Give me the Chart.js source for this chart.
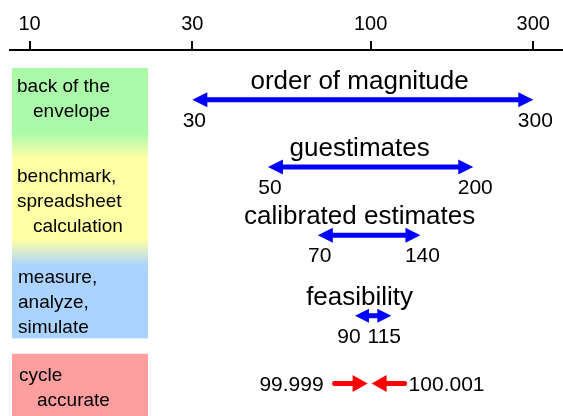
<!DOCTYPE html>
<html>
<head>
<meta charset="utf-8">
<script src="https://cdn.jsdelivr.net/npm/chart.js@4"></script>
<style>
  html, body { margin: 0; padding: 0; background: #ffffff; }
  #wrap { width: 563px; height: 416px; position: relative; }
</style>
</head>
<body>
<div id="wrap"><canvas id="c"></canvas></div>
<script>
// ---- data ----
const tickValues = [10, 30, 100, 300];
const tickLabels = ['10', '30', '100', '300'];
const methods = ['order of magnitude', 'guestimates', 'calibrated estimates', 'feasibility'];
const lows = [30, 50, 70, 90];
const highs = [300, 200, 140, 115];
const lowLabels = ['30', '50', '70', '90'];
const highLabels = ['300', '200', '140', '115'];
const exactLow = 99.999;
const exactHigh = 100.001;
const exactLabels = ['99.999', '100.001'];
const bandLabels = [
  ['back of the', 'envelope'],
  ['benchmark,', 'spreadsheet', 'calculation'],
  ['measure,', 'analyze,', 'simulate'],
  ['cycle', 'accurate']
];

// ---- layout (y in hidden-scale units 0..100, top to bottom) ----
const rowLevels = [13.6, 32.0, 50.6, 72.6, 91.1];
const FONT = '"Liberation Sans", Arial, Helvetica, sans-serif';

const datasets = lows.map((lo, i) => ({
  label: methods[i],
  data: [{ x: lo, y: rowLevels[i] }, { x: highs[i], y: rowLevels[i] }],
  showLine: false, pointRadius: 0
}));
datasets.push({
  label: 'cycle accurate',
  data: [{ x: exactLow, y: rowLevels[4] }, { x: exactHigh, y: rowLevels[4] }],
  showLine: false, pointRadius: 0
});

function tri(ctx, tipX, y, dir, len, half) {
  ctx.beginPath();
  ctx.moveTo(tipX, y);
  ctx.lineTo(tipX - dir * len, y - half);
  ctx.lineTo(tipX - dir * len, y + half);
  ctx.closePath();
  ctx.fill();
}

const artPlugin = {
  id: 'art',
  beforeDraw(chart) {
    const ctx = chart.ctx;
    const ys = chart.scales.y;
    ctx.save();
    ctx.fillStyle = '#ffffff';
    ctx.fillRect(0, 0, chart.width, chart.height);
    // colored method bands
    const bx = 12, bw = 136;
    const top = ys.getPixelForValue(4.9), bot = ys.getPixelForValue(78.8);
    const g = ctx.createLinearGradient(0, top, 0, bot);
    const h = bot - top;
    const stop = p => Math.min(1, Math.max(0, (p - top) / h));
    g.addColorStop(0, '#aafaaa');
    g.addColorStop(stop(133), '#aafaaa');
    g.addColorStop(stop(158), '#ffffa6');
    g.addColorStop(stop(240), '#ffffa6');
    g.addColorStop(stop(266), '#aad4ff');
    g.addColorStop(1, '#aad4ff');
    ctx.fillStyle = g;
    ctx.fillRect(bx, top, bw, h);
    const rTop = ys.getPixelForValue(83.0), rBot = ys.getPixelForValue(100);
    ctx.fillStyle = '#ff9e9e';
    ctx.fillRect(bx, rTop, bw, rBot - rTop);
    // band texts
    ctx.fillStyle = '#000000';
    ctx.font = '19px ' + FONT;
    ctx.textAlign = 'left';
    ctx.textBaseline = 'alphabetic';
    const pos = [
      [[17, 92], [33, 117]],
      [[17, 182], [17, 207], [33, 232]],
      [[18, 283], [18, 308], [18, 333]],
      [[19, 381], [37, 406]]
    ];
    bandLabels.forEach((lines, i) => {
      lines.forEach((t, j) => ctx.fillText(t, pos[i][j][0], pos[i][j][1]));
    });
    ctx.restore();
  },
  afterDatasetsDraw(chart) {
    const ctx = chart.ctx;
    const xs = chart.scales.x;
    const titleX = xs.getPixelForValue(100) - 11;
    ctx.save();
    ctx.textBaseline = 'alphabetic';
    for (let i = 0; i < lows.length; i++) {
      const pts = chart.getDatasetMeta(i).data;
      const x1 = pts[0].x, x2 = pts[1].x, y = pts[0].y;
      const small = i === 3;
      const len = small ? 14 : 15, half = small ? 7 : 7.5;
      ctx.fillStyle = '#0000ff';
      ctx.strokeStyle = '#0000ff';
      ctx.lineWidth = 5;
      ctx.lineCap = 'butt';
      if (x2 - x1 > 2 * len) {
        ctx.beginPath();
        ctx.moveTo(x1 + len - 1, y);
        ctx.lineTo(x2 - len + 1, y);
        ctx.stroke();
      }
      tri(ctx, x1, y, -1, len, half);
      tri(ctx, x2, y, 1, len, half);
      // title
      ctx.fillStyle = '#000000';
      ctx.textAlign = 'center';
      ctx.font = '26px ' + FONT;
      ctx.fillText(methods[i], titleX, y - 11);
      // end labels
      ctx.font = '21px ' + FONT;
      ctx.fillText(lowLabels[i], x1 + (small ? -6 : 2), y + 27);
      ctx.fillText(highLabels[i], x2 + (small ? -7 : 2), y + 27);
    }
    // cycle-accurate inward arrows
    const pts = chart.getDatasetMeta(4).data;
    const y = pts[0].y;
    const lTip = pts[0].x - 3, rTip = pts[1].x + 1;
    ctx.fillStyle = '#ff0000';
    ctx.strokeStyle = '#ff0000';
    ctx.lineWidth = 5;
    ctx.lineCap = 'round';
    ctx.beginPath();
    ctx.moveTo(lTip - 33, y); ctx.lineTo(lTip - 12, y);
    ctx.moveTo(rTip + 33, y); ctx.lineTo(rTip + 12, y);
    ctx.stroke();
    tri(ctx, lTip, y, 1, 15, 8.5);
    tri(ctx, rTip, y, -1, 15, 8.5);
    ctx.fillStyle = '#000000';
    ctx.font = '21px ' + FONT;
    ctx.textAlign = 'right';
    ctx.fillText(exactLabels[0], lTip - 44, y + 8);
    ctx.textAlign = 'left';
    ctx.fillText(exactLabels[1], rTip + 37, y + 8);
    ctx.restore();
  }
};

new Chart(document.getElementById('c'), {
  type: 'scatter',
  data: { datasets },
  options: {
    responsive: true,
    maintainAspectRatio: false,
    animation: false,
    devicePixelRatio: 1,
    layout: { padding: { left: 10, right: 0, top: 7, bottom: 0 } },
    plugins: { legend: { display: false }, tooltip: { enabled: false } },
    scales: {
      x: {
        type: 'logarithmic',
        position: 'top',
        min: 8.76,
        max: 366.6,
        afterBuildTicks(scale) { scale.ticks = tickValues.map(v => ({ value: v })); },
        ticks: {
          autoSkip: false,
          maxRotation: 0,
          color: '#000000',
          font: { family: FONT, size: 20 },
          padding: 5,
          callback: (v) => { const k = tickValues.indexOf(v); return k >= 0 ? tickLabels[k] : ''; }
        },
        grid: { drawOnChartArea: false, drawTicks: true, tickLength: 9, color: '#000000', lineWidth: 2 },
        border: { display: true, color: '#000000', width: 2 }
      },
      y: {
        type: 'linear',
        display: false,
        reverse: true,
        min: 0,
        max: 100
      }
    }
  },
  plugins: [artPlugin]
});
</script>
</body>
</html>
